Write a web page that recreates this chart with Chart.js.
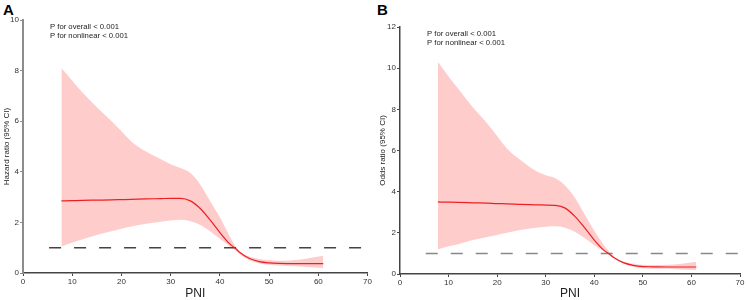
<!DOCTYPE html>
<html>
<head>
<meta charset="utf-8">
<script src="https://cdn.jsdelivr.net/npm/chart.js@4.4.1/dist/chart.umd.min.js"></script>
<style>
  body { margin: 0; background: #fff; width: 747px; height: 300px; position: relative; overflow: hidden; }
  canvas { position: absolute; top: 0; }
  .tag { position: absolute; top: 1px; font: bold 15px "Liberation Sans", Arial, sans-serif; color: #000; }
</style>
</head>
<body>
<div class="tag" style="left:3px">A</div>
<div class="tag" style="left:377px">B</div>
<canvas id="chartA" width="373" height="300" style="left:0"></canvas>
<canvas id="chartB" width="374" height="300" style="left:373px"></canvas>
<script>
const pni = [7.8, 10, 12, 15, 18, 20, 22, 25, 28, 30, 32, 34, 36, 38, 40, 42, 43, 44, 46, 48, 50, 52, 55, 58, 61];

// panel A - hazard ratio
const hrA    = [2.85, 2.86, 2.87, 2.88, 2.89, 2.9, 2.91, 2.93, 2.94, 2.95, 2.95, 2.85, 2.55, 2.1, 1.6, 1.15, 1.0, 0.82, 0.57, 0.45, 0.4, 0.38, 0.37, 0.37, 0.37];
const upperA = [8.1, 7.6, 7.15, 6.55, 6.0, 5.6, 5.2, 4.8, 4.5, 4.3, 4.15, 3.95, 3.5, 2.85, 2.2, 1.45, 1.1, 0.85, 0.65, 0.55, 0.5, 0.48, 0.5, 0.58, 0.68];
const lowerA = [1.05, 1.2, 1.32, 1.5, 1.65, 1.75, 1.84, 1.95, 2.03, 2.08, 2.1, 2.05, 1.9, 1.65, 1.35, 1.05, 0.92, 0.75, 0.5, 0.38, 0.33, 0.3, 0.28, 0.24, 0.2];

// panel B - odds ratio
const orB    = [3.5, 3.49, 3.48, 3.46, 3.44, 3.42, 3.41, 3.38, 3.36, 3.35, 3.33, 3.2, 2.8, 2.25, 1.65, 1.15, 0.98, 0.8, 0.55, 0.42, 0.36, 0.35, 0.34, 0.34, 0.34];
const upperB = [10.3, 9.6, 9.0, 8.1, 7.3, 6.7, 6.1, 5.5, 5.0, 4.8, 4.65, 4.3, 3.7, 2.9, 2.1, 1.4, 1.1, 0.85, 0.6, 0.5, 0.45, 0.44, 0.45, 0.5, 0.6];
const lowerB = [1.2, 1.35, 1.45, 1.65, 1.8, 1.9, 2.0, 2.15, 2.25, 2.3, 2.32, 2.25, 2.05, 1.75, 1.4, 1.1, 0.95, 0.78, 0.5, 0.35, 0.28, 0.26, 0.25, 0.22, 0.2];

const xTicks = [0, 10, 20, 30, 40, 50, 60, 70];
const refLine = [5.3, 70];
const pLines = ['P for overall < 0.001', 'P for nonlinear < 0.001'];

const FONT = '"Liberation Sans", Arial, sans-serif';

function pts(ys) {
  return pni.map((x, i) => ({ x: x, y: ys[i] }));
}

// draws the P-value note in the top left corner of the plot
const pNote = {
  id: 'pNote',
  afterDraw(chart) {
    const ctx = chart.ctx;
    const a = chart.chartArea;
    ctx.save();
    ctx.font = '7.7px ' + FONT;
    ctx.fillStyle = '#222';
    ctx.textBaseline = 'middle';
    pLines.forEach((t, i) => ctx.fillText(t, a.left + 27, a.top + 7 + i * 9));
    ctx.restore();
  }
};

function makeChart(id, opt) {
  const band = 'rgb(255,204,204)';
  // chart.js paints the first dataset on top, so the curve goes first
  return new Chart(document.getElementById(id), {
    type: 'line',
    data: {
      datasets: [
        { data: pts(opt.mid), borderColor: 'rgb(236,32,36)', borderWidth: 1.2, pointRadius: 0, fill: false, cubicInterpolationMode: 'monotone' },
        { data: refLine.map(x => ({ x: x, y: 1 })), borderColor: opt.dashColor, borderWidth: 1.5, borderDash: [12, 13], pointRadius: 0, fill: false },
        { data: pts(opt.upper), borderWidth: 0, pointRadius: 0, backgroundColor: band, fill: '+1', cubicInterpolationMode: 'monotone' },
        { data: pts(opt.lower), borderWidth: 0, pointRadius: 0, backgroundColor: band, fill: false, cubicInterpolationMode: 'monotone' }
      ]
    },
    options: {
      responsive: false,
      animation: false,
      devicePixelRatio: 1,
      layout: { padding: { top: opt.top, right: opt.right, bottom: 0, left: 0 } },
      plugins: { legend: { display: false }, tooltip: { enabled: false } },
      scales: {
        x: {
          type: 'linear', min: 0, max: 70,
          afterBuildTicks: s => { s.ticks = xTicks.map(v => ({ value: v })); },
          afterFit: s => { s.height = opt.xh; },
          border: { color: '#444', width: 1.5 },
          grid: { drawOnChartArea: false, tickLength: 3, color: '#444' },
          ticks: { padding: 1, color: '#333', font: { size: 8, family: FONT }, maxRotation: 0 },
          title: { display: true, text: 'PNI', color: '#222', font: { size: 12, family: FONT, lineHeight: 1 }, padding: 0 }
        },
        y: {
          min: 0, max: opt.ymax,
          ticks: { stepSize: 2, padding: 1, color: '#333', font: { size: 8, family: FONT } },
          afterFit: s => { s.width = opt.yw; },
          border: { color: opt.yAxisColor, width: opt.yAxisWidth },
          grid: { drawOnChartArea: false, tickLength: 3, color: opt.yAxisColor },
          title: { display: true, text: opt.ytitle, color: '#222', font: { size: 8, family: FONT }, padding: { top: opt.titlePad, bottom: 0 } }
        }
      }
    },
    plugins: [pNote]
  });
}

makeChart('chartA', {
  upper: upperA, lower: lowerA, mid: hrA, ymax: 10, ytitle: 'Hazard ratio (95% CI)',
  dashColor: '#444', yAxisColor: '#8c8c8c', yAxisWidth: 2,
  top: 20, right: 5, xh: 27, yw: 23, titlePad: 2
});

makeChart('chartB', {
  upper: upperB, lower: lowerB, mid: orB, ymax: 12, ytitle: 'Odds ratio (95% CI)',
  dashColor: '#888', yAxisColor: '#444', yAxisWidth: 1.5,
  top: 27, right: 7, xh: 26, yw: 27, titlePad: 5
});
</script>
</body>
</html>
